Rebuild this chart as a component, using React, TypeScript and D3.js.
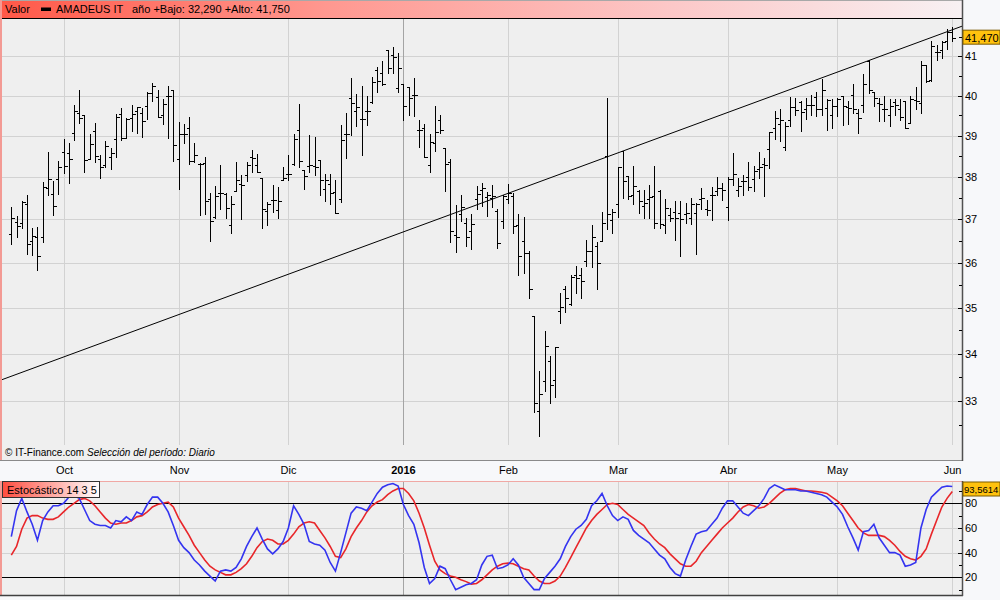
/**
 * AMADEUS IT - barras OHLC diarias con estocástico
 */

import React, { useEffect, useRef } from 'react'
import * as d3 from 'd3'

// OHLC diario, 17-sep-2015 .. 1-jun-2016
const opens = [
  36.66, 36.93, 36.91, 37.36, 36.5, 36.6, 36.6, 37.73, 37.6, 37.95, 38.6, 38.59, 39.06, 39.57, 39.52, 38.44, 39.12, 38.44, 38.28, 38.47,
  38.93, 39.53, 38.95, 39.44, 39.61, 39.57, 39.73, 40.06, 39.95, 39.5, 39.98, 40.15, 38.43, 39.05, 39.2, 38.39, 38.31, 38.33, 37.47, 37.06,
  37.61, 37.59, 36.86, 37.66, 37.83, 38.04, 38.48, 38.29, 37.97, 37.2, 37.45, 37.21, 37.92, 38.08, 38.3, 39.13, 38.16, 38.27, 38.27, 38.42,
  37.71, 37.83, 37.64, 37.48, 39.03, 39.93, 39.6, 39.42, 39.61, 39.84, 40.66, 40.58, 41.17, 41.04, 40.19, 40.28, 40.21, 40.02, 39.15, 39.18,
  38.28, 38.81, 39.38, 38.71, 38.36, 36.64, 37.12, 36.92, 36.73, 37.48, 37.7, 37.52, 37.5, 37.2, 36.96, 37.48, 37.54, 36.86, 36.5, 36.23,
  34.81, 32.79, 33.42, 33.85, 33.44, 34.93, 35.42, 35.09, 35.73, 35.73, 36.04, 36.26, 36.38, 36.5, 38.51, 36.98, 37.36, 38.63, 38.02, 37.56,
  37.66, 37.32, 37.48, 37.54, 37.66, 36.87, 37.1, 37.16, 37.14, 37.12, 37.02, 37.14, 37.48, 37.24, 37.56, 37.66, 37.74, 37.3, 37.96, 37.68,
  37.9, 38.0, 37.96, 38.2, 38.31, 38.67, 39.2, 39.3, 38.73, 39.38, 39.71, 39.83, 39.65, 39.76, 39.95, 39.67, 39.69, 39.52, 39.74, 39.98,
  39.71, 40.02, 39.56, 39.77, 40.87, 40.09, 39.8, 39.67, 39.51, 39.84, 39.67, 39.85, 39.32, 39.88, 39.8, 40.77, 40.39, 41.11, 41.15, 41.39,
  41.63,
]
const highs = [
  37.28, 37.08, 37.44, 37.56, 36.79, 36.83, 37.89, 38.6, 37.9, 38.39, 38.93, 38.82, 39.75, 40.15, 39.52, 39.03, 39.31, 38.54, 38.87, 38.69,
  39.53, 39.68, 39.44, 39.77, 39.71, 39.69, 40.1, 40.32, 40.15, 39.9, 40.24, 40.15, 39.35, 39.29, 39.47, 38.83, 38.33, 38.49, 37.61, 37.79,
  38.28, 37.61, 37.55, 38.37, 38.04, 38.37, 38.66, 38.56, 37.97, 37.41, 37.81, 37.76, 38.24, 38.52, 39.05, 39.78, 38.16, 39.01, 38.98, 38.42,
  38.07, 38.06, 37.92, 39.26, 39.55, 40.45, 40.04, 40.24, 39.98, 40.47, 40.72, 40.87, 41.17, 41.23, 41.08, 40.28, 40.21, 40.45, 39.4, 39.3,
  39.03, 39.74, 39.52, 38.71, 38.44, 37.34, 37.56, 37.04, 37.12, 37.78, 37.86, 37.64, 37.8, 37.24, 37.56, 37.84, 37.62, 37.12, 37.06, 36.28,
  34.81, 33.63, 34.49, 33.94, 34.15, 35.33, 35.48, 35.73, 35.94, 35.88, 36.53, 36.86, 36.47, 37.16, 39.93, 37.24, 38.24, 38.63, 38.02, 38.26,
  37.7, 37.68, 37.82, 38.26, 37.7, 37.48, 37.26, 37.42, 37.42, 37.38, 37.5, 37.38, 37.74, 37.46, 37.76, 38.0, 37.86, 38.0, 38.57, 37.98,
  38.04, 38.35, 38.26, 38.61, 38.45, 39.08, 39.6, 39.65, 39.34, 39.95, 39.93, 39.85, 39.93, 40.01, 40.08, 40.43, 39.9, 39.92, 39.93, 40.0,
  39.85, 40.28, 39.66, 40.54, 40.91, 40.1, 39.93, 39.98, 39.9, 39.9, 39.9, 39.85, 39.98, 40.22, 40.89, 40.78, 41.39, 41.29, 41.39, 41.7,
  41.75,
]
const lows = [
  36.44, 36.58, 36.79, 36.2, 36.18, 35.83, 36.47, 37.56, 37.09, 37.6, 38.09, 37.85, 38.9, 39.31, 38.12, 38.44, 38.37, 37.98, 38.25, 38.19,
  38.48, 38.9, 38.95, 39.11, 39.07, 38.97, 39.41, 39.87, 39.45, 39.29, 38.95, 38.38, 37.72, 38.82, 38.31, 38.35, 37.09, 37.12, 36.49, 37.04,
  37.24, 37.04, 36.69, 37.66, 37.0, 37.91, 38.12, 38.13, 36.79, 36.87, 37.18, 37.02, 37.92, 37.92, 38.29, 38.23, 37.71, 38.13, 38.05, 37.57,
  37.42, 37.35, 37.14, 37.4, 38.46, 39.02, 39.24, 38.53, 39.27, 39.8, 40.09, 40.26, 40.58, 40.58, 40.09, 39.4, 39.52, 39.48, 38.73, 38.49,
  38.13, 38.62, 39.06, 37.66, 36.47, 36.25, 36.96, 36.39, 36.31, 37.24, 37.32, 37.08, 37.28, 36.33, 36.79, 37.38, 36.68, 35.73, 35.77, 35.22,
  32.78, 32.29, 33.22, 32.96, 33.08, 34.67, 34.91, 35.05, 35.32, 35.22, 35.92, 35.9, 35.41, 36.5, 36.77, 36.68, 37.06, 37.5, 37.48, 37.36,
  37.14, 37.02, 37.04, 36.81, 36.79, 36.68, 36.95, 36.53, 36.15, 36.91, 36.89, 36.21, 37.24, 37.1, 36.98, 37.56, 37.46, 36.98, 37.8, 37.54,
  37.56, 37.7, 37.66, 37.98, 37.54, 38.22, 38.93, 38.87, 38.65, 39.24, 39.52, 39.11, 39.41, 39.5, 39.49, 39.51, 39.14, 39.18, 39.49, 39.26,
  39.28, 39.56, 39.06, 39.58, 40.07, 39.74, 39.36, 39.36, 39.25, 39.51, 39.39, 39.18, 39.32, 39.66, 39.55, 40.33, 40.37, 40.91, 40.96, 41.2,
  41.39,
]
const closes = [
  37.04, 36.85, 37.4, 36.44, 36.62, 36.16, 37.75, 37.95, 37.32, 38.25, 38.27, 38.44, 39.61, 39.44, 38.42, 38.8, 38.5, 38.25, 38.75, 38.58,
  39.47, 38.95, 39.41, 39.53, 39.71, 39.37, 40.06, 40.23, 39.45, 39.79, 39.98, 38.78, 39.05, 39.05, 38.38, 38.52, 38.3, 37.42, 36.95, 37.55,
  37.63, 37.26, 37.35, 37.92, 37.8, 38.29, 38.45, 38.13, 37.24, 37.35, 37.45, 37.43, 37.97, 38.08, 38.93, 38.39, 38.02, 38.29, 38.25, 37.92,
  37.92, 37.61, 37.14, 38.9, 39.03, 39.8, 39.72, 39.42, 39.61, 40.35, 40.36, 40.28, 40.69, 40.97, 40.69, 39.74, 39.93, 40.02, 39.13, 38.49,
  38.84, 39.1, 39.15, 38.32, 36.73, 36.58, 37.28, 36.6, 36.89, 37.6, 37.74, 37.58, 37.54, 36.45, 37.54, 37.62, 36.85, 36.16, 36.23, 35.41,
  32.96, 33.14, 34.17, 33.33, 34.15, 35.02, 35.22, 35.67, 35.65, 35.6, 36.26, 36.58, 36.0, 36.91, 37.12, 37.18, 38.23, 37.9, 37.54, 37.78,
  37.44, 37.38, 37.52, 36.91, 36.89, 37.26, 37.04, 37.04, 37.0, 37.14, 37.36, 37.36, 37.5, 37.22, 37.58, 37.74, 37.7, 37.96, 38.06, 37.78,
  37.9, 37.76, 38.15, 38.24, 38.28, 39.08, 39.44, 39.38, 39.24, 39.71, 39.64, 39.59, 39.76, 39.76, 39.67, 40.13, 39.89, 39.74, 39.92, 39.74,
  39.69, 39.66, 39.43, 40.3, 40.13, 39.93, 39.78, 39.67, 39.74, 39.77, 39.47, 39.18, 39.92, 39.85, 40.77, 40.37, 41.26, 41.11, 41.37, 41.64,
  41.47,
]

// Estocástico 14 3 5: %K (azul) y %D (rojo)
const stochK = [
  53, 74, 84, 73, 63, 50, 66, 73, 78, 78, 80, 85, 86, 84, 75, 66, 63, 62, 62, 60,
  66, 65, 69, 66, 73, 71, 79, 85, 85, 80, 73, 62, 50, 44, 40, 34, 30, 25, 21, 17,
  25, 26, 25, 28, 35, 45, 53, 60, 51, 43, 39, 43, 49, 60, 78, 71, 63, 49, 47, 46,
  42, 32, 25, 40, 56, 72, 77, 76, 74, 81, 88, 93, 95, 96, 94, 79, 70, 63, 48, 28,
  15, 19, 29, 27, 18, 10, 12, 14, 15, 18, 30, 37, 38, 27, 28, 30, 35, 30, 20, 15,
  10, 10, 19, 24, 29, 35, 45, 53, 59, 62, 67, 78, 82, 88, 78, 70, 66, 69, 67, 58,
  54, 51, 48, 43, 38, 35, 28, 23, 21, 34, 45, 55, 57, 58, 63, 68, 76, 82, 82, 77,
  72, 70, 74, 78, 84, 92, 95, 93, 91, 91, 91, 90, 90, 89, 88, 87, 85, 81, 77, 71,
  61, 52, 42, 57, 58, 63, 52, 46, 40, 40, 38, 29, 30, 32, 60, 75, 85, 89, 93, 94,
  93.5614,
]
const stochD = [
  38, 45, 59, 68, 70, 70, 68, 67, 67, 69, 73, 77, 80, 83, 84, 82, 78, 73, 68, 64,
  63, 64, 64, 66, 69, 70, 73, 77, 79, 80, 81, 77, 68, 61, 54, 46, 40, 34, 29, 26,
  24, 22, 22, 24, 27, 31, 37, 44, 49, 51, 50, 47, 47, 50, 55, 61, 64, 65, 64, 58,
  52, 45, 37, 36, 43, 53, 60, 66, 73, 78, 81, 83, 87, 90, 92, 92, 88, 82, 72, 60,
  46, 33, 26, 23, 21, 20, 18, 16.5, 14.5, 15, 18, 22, 26, 29, 31, 31.5, 31, 29, 27, 26,
  21, 17, 15, 15, 17, 21, 28, 36, 44, 52, 60, 66, 71, 75, 79, 80, 79, 75, 71, 68,
  65, 62, 56, 51, 47, 44, 39, 35, 31, 29, 29, 33, 40, 45, 50, 55, 60, 64, 68, 73,
  77, 79, 78, 76, 77, 80, 84, 88, 91, 92, 92, 91, 90, 90, 89.5, 89, 88, 85, 82, 78,
  72, 66, 60, 56, 54, 54, 54, 53, 50, 46, 41, 37, 35, 34, 37, 43, 55, 66, 77, 84,
  89.5,
]

// primera sesión de cada mes (número de barra)
const monthLabels = ['Oct', 'Nov', 'Dic', '2016', 'Feb', 'Mar', 'Abr', 'May', 'Jun']
const monthStart = [11, 33, 54, 76, 96, 117, 138, 159, 181]

const priceTicks = [33, 34, 35, 36, 37, 38, 39, 40, 41]
const priceMinor = [32.5, 33.5, 34.5, 35.5, 36.5, 37.5, 38.5, 39.5, 40.5, 41.5]
const stochTicks = [20, 40, 60, 80]
const stochMinor = [10, 30, 50, 70, 90]

// directriz: barra -> precio
const trendBars = [1, 181]
const trendPrices = [33.52, 41.69]

const fontFamily = '"Liberation Sans", Arial, sans-serif'

const App = () => {
  const refSvg = useRef(null)

  const draw = () => {
    const W = 1000
    const H = 600
    const left = 2
    const right = 962
    const top = 18
    const bottom = 445
    const frameBottom = 460
    const sTop = 481
    const sBottom = 595

    const svg = d3.select(refSvg.current)
    svg.selectAll('*').remove()
    svg.attr('width', W).attr('height', H).style('font-family', fontFamily)

    const defs = svg.append('defs')
    const hg = defs.append('linearGradient').attr('id', 'hdr').attr('x1', 0).attr('x2', 1).attr('y1', 0).attr('y2', 0)
    hg.append('stop').attr('offset', '0%').attr('stop-color', '#ff5848')
    hg.append('stop').attr('offset', '34%').attr('stop-color', '#ff9890')
    hg.append('stop').attr('offset', '70%').attr('stop-color', '#fcc8c8')
    hg.append('stop').attr('offset', '100%').attr('stop-color', '#f8f1f3')
    const sg = defs.append('linearGradient').attr('id', 'stl').attr('x1', 0).attr('x2', 1).attr('y1', 0).attr('y2', 0)
    sg.append('stop').attr('offset', '0%').attr('stop-color', '#ff4e40')
    sg.append('stop').attr('offset', '100%').attr('stop-color', '#ffffff')
    defs.append('clipPath').attr('id', 'cpMain').append('rect').attr('x', left).attr('y', top).attr('width', right - left).attr('height', bottom - top)
    defs.append('clipPath').attr('id', 'cpStoch').append('rect').attr('x', left).attr('y', sTop).attr('width', right - left).attr('height', sBottom - sTop)

    svg.append('rect').attr('width', W).attr('height', H).attr('fill', '#f7f8fa')

    const x = d3.scaleLinear().domain([1, 181]).range([11.3, 952.3])
    const y = d3.scaleLog().domain([32.1, 42]).range([bottom, top])
    const ys = d3.scaleLinear().domain([20, 80]).range([577.3, 503.3])
    const px = (i: number) => Math.round(x(i)) + 0.5

    // cabecera
    svg.append('rect').attr('x', 0).attr('y', 0).attr('width', right).attr('height', top).attr('fill', 'url(#hdr)')
    svg.append('line').attr('x1', 0).attr('x2', right).attr('y1', 0.5).attr('y2', 0.5).attr('stroke', '#a8a8a8')
    svg.append('text').attr('x', 5).attr('y', 13).attr('font-size', 11).text('Valor')
    svg.append('rect').attr('x', 41).attr('y', 7.5).attr('width', 10).attr('height', 3.5).attr('fill', '#000')
    svg.append('text').attr('x', 56).attr('y', 13).attr('font-size', 11).text('AMADEUS IT')
    svg.append('text').attr('x', 132).attr('y', 13).attr('font-size', 11).text('año +Bajo: 32,290 +Alto: 41,750')

    // panel principal
    svg.append('rect').attr('x', left).attr('y', top).attr('width', right - left).attr('height', frameBottom - top).attr('fill', '#efefef')

    svg
      .append('g')
      .selectAll('line')
      .data(priceTicks)
      .join('line')
      .attr('x1', left)
      .attr('x2', right)
      .attr('y1', (d) => Math.round(y(d)) + 0.5)
      .attr('y2', (d) => Math.round(y(d)) + 0.5)
      .attr('stroke', '#d2d2d2')

    const vGrid = (y1: number, y2: number) =>
      svg
        .append('g')
        .selectAll('line')
        .data(monthStart)
        .join('line')
        .attr('x1', (d) => px(d))
        .attr('x2', (d) => px(d))
        .attr('y1', y1)
        .attr('y2', y2)
        .attr('stroke', (d, i) => (monthLabels[i] === '2016' ? '#a4a4a4' : '#d2d2d2'))
    vGrid(top, bottom)

    // directriz
    const kTrend = (Math.log(trendPrices[1]) - Math.log(trendPrices[0])) / (trendBars[1] - trendBars[0])
    const tPrice = (i: number) => Math.exp(Math.log(trendPrices[0]) + kTrend * (i - trendBars[0]))
    const i0 = x.invert(left)
    const i1 = x.invert(right + 5)
    svg
      .append('line')
      .attr('clip-path', 'url(#cpMain)')
      .attr('x1', x(i0))
      .attr('y1', y(tPrice(i0)))
      .attr('x2', x(i1))
      .attr('y2', y(tPrice(i1)))
      .attr('stroke', '#000')
      .attr('stroke-width', 1)

    // barras OHLC
    const bars = d3.range(opens.length)
    svg
      .append('g')
      .attr('clip-path', 'url(#cpMain)')
      .selectAll('path')
      .data(bars)
      .join('path')
      .attr('fill', 'none')
      .attr('stroke', '#000')
      .attr('stroke-width', 1)
      .attr('shape-rendering', 'crispEdges')
      .attr('d', (i) => {
        const cx = px(i + 1)
        const yo = Math.round(y(opens[i])) + 0.5
        const yc = Math.round(y(closes[i])) + 0.5
        return `M${cx},${Math.round(y(highs[i]))}V${Math.round(y(lows[i])) + 1}M${cx - 3},${yo}H${cx}M${cx},${yc}H${cx + 3}`
      })

    // pie del panel
    svg.append('text').attr('x', 5).attr('y', 456).attr('font-size', 10).text('© IT-Finance.com')
    svg.append('text').attr('x', 87).attr('y', 456).attr('font-size', 10).attr('font-style', 'italic').text('Selección del período: Diario')

    // marco
    svg.append('line').attr('x1', 0).attr('x2', right).attr('y1', top + 0.5).attr('y2', top + 0.5).attr('stroke', '#000')
    svg.append('line').attr('x1', 1).attr('x2', 1).attr('y1', 0).attr('y2', frameBottom).attr('stroke', '#f39a94').attr('stroke-width', 2)
    svg.append('line').attr('x1', 0).attr('x2', right).attr('y1', frameBottom + 0.5).attr('y2', frameBottom + 0.5).attr('stroke', '#8a8a8a')
    svg.append('line').attr('x1', right + 0.5).attr('x2', right + 0.5).attr('y1', 0).attr('y2', frameBottom + 1).attr('stroke', '#505050').attr('stroke-width', 1.5)

    // eje de precios
    const axisG = svg.append('g')
    axisG
      .selectAll('line.maj')
      .data(priceTicks)
      .join('line')
      .attr('class', 'maj')
      .attr('x1', right - 4)
      .attr('x2', right)
      .attr('y1', (d) => Math.round(y(d)) + 0.5)
      .attr('y2', (d) => Math.round(y(d)) + 0.5)
      .attr('stroke', '#000')
    axisG
      .selectAll('line.min')
      .data(priceMinor)
      .join('line')
      .attr('class', 'min')
      .attr('x1', right - 3)
      .attr('x2', right)
      .attr('y1', (d) => Math.round(y(d)) + 0.5)
      .attr('y2', (d) => Math.round(y(d)) + 0.5)
      .attr('stroke', '#000')
    axisG
      .selectAll('text')
      .data(priceTicks)
      .join('text')
      .attr('x', 965)
      .attr('y', (d) => y(d) + 4)
      .attr('font-size', 11)
      .text((d) => d)

    const last = closes[closes.length - 1]
    svg.append('rect').attr('x', 963).attr('y', y(last) - 8).attr('width', 37).attr('height', 14).attr('fill', '#ffc20e').attr('stroke', '#7a5a00')
    svg.append('text').attr('x', 965).attr('y', y(last) + 3.5).attr('font-size', 11).text(d3.format('.3f')(last).replace('.', ','))

    // eje temporal
    svg
      .append('g')
      .selectAll('text')
      .data(monthStart)
      .join('text')
      .attr('x', (d) => px(d))
      .attr('y', 474)
      .attr('text-anchor', 'middle')
      .attr('font-size', 11)
      .attr('font-weight', (d, i) => (monthLabels[i] === '2016' ? 'bold' : 'normal'))
      .text((d, i) => monthLabels[i])

    // panel estocástico
    svg.append('rect').attr('x', left).attr('y', sTop).attr('width', right - left).attr('height', sBottom - sTop).attr('fill', '#efefef')
    vGrid(sTop, sBottom)
    svg
      .append('g')
      .selectAll('line')
      .data(stochTicks)
      .join('line')
      .attr('x1', left)
      .attr('x2', right)
      .attr('y1', (d) => Math.round(ys(d)) + 0.5)
      .attr('y2', (d) => Math.round(ys(d)) + 0.5)
      .attr('stroke', (d) => (d === 20 || d === 80 ? '#000' : '#d2d2d2'))

    const line = d3
      .line<number>()
      .x((d, i) => x(i + 1))
      .y((d) => ys(d))
    const sG = svg.append('g').attr('clip-path', 'url(#cpStoch)')
    sG.append('path').datum(stochD).attr('fill', 'none').attr('stroke', '#e8262a').attr('stroke-width', 1.6).attr('d', line)
    sG.append('path').datum(stochK).attr('fill', 'none').attr('stroke', '#3434f0').attr('stroke-width', 1.6).attr('d', line)

    svg.append('line').attr('x1', 0).attr('x2', right).attr('y1', sTop + 0.5).attr('y2', sTop + 0.5).attr('stroke', '#f0a8a4')
    svg.append('line').attr('x1', 1).attr('x2', 1).attr('y1', sTop).attr('y2', sBottom).attr('stroke', '#f39a94').attr('stroke-width', 2)
    svg.append('line').attr('x1', 0).attr('x2', right + 1).attr('y1', sBottom + 0.5).attr('y2', sBottom + 0.5).attr('stroke', '#404040').attr('stroke-width', 1.5)
    svg.append('line').attr('x1', right + 0.5).attr('x2', right + 0.5).attr('y1', sTop).attr('y2', sBottom + 1).attr('stroke', '#505050').attr('stroke-width', 1.5)

    svg.append('rect').attr('x', 2.5).attr('y', sTop + 0.5).attr('width', 97).attr('height', 16).attr('fill', 'url(#stl)').attr('stroke', '#333')
    svg.append('text').attr('x', 7).attr('y', sTop + 13).attr('font-size', 11).text('Estocástico 14 3 5')

    const sAxis = svg.append('g')
    sAxis
      .selectAll('line.maj')
      .data(stochTicks)
      .join('line')
      .attr('class', 'maj')
      .attr('x1', right - 4)
      .attr('x2', right)
      .attr('y1', (d) => Math.round(ys(d)) + 0.5)
      .attr('y2', (d) => Math.round(ys(d)) + 0.5)
      .attr('stroke', '#000')
    sAxis
      .selectAll('line.min')
      .data(stochMinor)
      .join('line')
      .attr('class', 'min')
      .attr('x1', right - 3)
      .attr('x2', right)
      .attr('y1', (d) => Math.round(ys(d)) + 0.5)
      .attr('y2', (d) => Math.round(ys(d)) + 0.5)
      .attr('stroke', '#000')
    sAxis
      .selectAll('text')
      .data(stochTicks)
      .join('text')
      .attr('x', 965)
      .attr('y', (d) => ys(d) + 4)
      .attr('font-size', 11)
      .text((d) => d)

    const lastK = stochK[stochK.length - 1]
    svg.append('rect').attr('x', 963).attr('y', sTop + 1).attr('width', 37).attr('height', 14).attr('fill', '#ffc20e').attr('stroke', '#7a5a00')
    svg.append('text').attr('x', 964).attr('y', sTop + 12).attr('font-size', 9.5).text(d3.format('.4f')(lastK).replace('.', ','))
  }

  useEffect(() => {
    if (refSvg) {
      draw()
    }
  })

  return <svg ref={refSvg} style={{ position: 'absolute', left: 0, top: 0 }} />
}

export default App
